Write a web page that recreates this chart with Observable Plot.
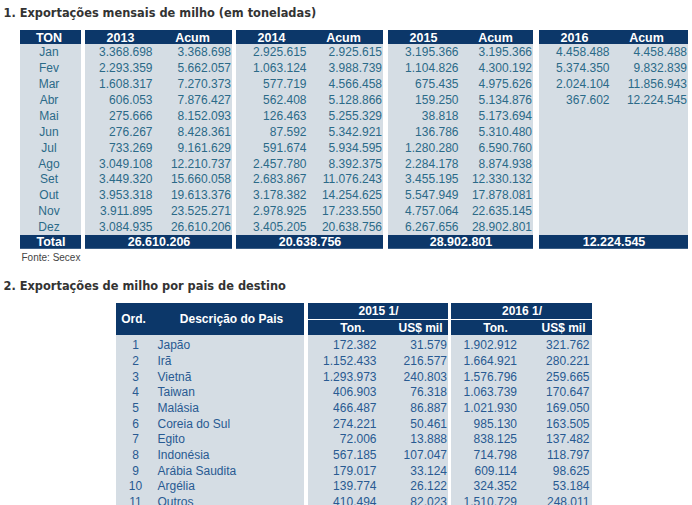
<!DOCTYPE html>
<html><head><meta charset="utf-8">
<script src="https://cdn.jsdelivr.net/npm/d3@7"></script>
<script src="https://cdn.jsdelivr.net/npm/@observablehq/plot@0.6"></script>
<style>body{margin:0;background:#fff}</style>
</head><body><div id="chart"></div>
<script>
// ---------- DATA ----------
const title1 = "1. Exportações mensais de milho (em toneladas)";
const title2 = "2. Exportações de milho por pais de destino";
const source = "Fonte: Secex";
const months = ["Jan","Fev","Mar","Abr","Mai","Jun","Jul","Ago","Set","Out","Nov","Dez"];
const years = ["2013","2014","2015","2016"];
const v2013 = [3368698,2293359,1608317,606053,275666,276267,733269,3049108,3449320,3953318,3911895,3084935];
const a2013 = [3368698,5662057,7270373,7876427,8152093,8428361,9161629,12210737,15660058,19613376,23525271,26610206];
const v2014 = [2925615,1063124,577719,562408,126463,87592,591674,2457780,2683867,3178382,2978925,3405205];
const a2014 = [2925615,3988739,4566458,5128866,5255329,5342921,5934595,8392375,11076243,14254625,17233550,20638756];
const v2015 = [3195366,1104826,675435,159250,38818,136786,1280280,2284178,3455195,5547949,4757064,6267656];
const a2015 = [3195366,4300192,4975626,5134876,5173694,5310480,6590760,8874938,12330132,17878081,22635145,28902801];
const v2016 = [4458488,5374350,2024104,367602];
const a2016 = [4458488,9832839,11856943,12224545];
const totals = [26610206,20638756,28902801,12224545];

const ord = [1,2,3,4,5,6,7,8,9,10,11];
const countries = ["Japão","Irã","Vietnã","Taiwan","Malásia","Coreia do Sul","Egito","Indonésia","Arábia Saudita","Argélia","Outros"];
const ton2015 = [172382,1152433,1293973,406903,466487,274221,72006,567185,179017,139774,410494];
const usd2015 = [31579,216577,240803,76318,86887,50461,13888,107047,33124,26122,82023];
const ton2016 = [1902912,1664921,1576796,1063739,1021930,985130,838125,714798,609114,324352,1510729];
const usd2016 = [321762,280221,259665,170647,169050,163505,137482,118797,98625,53184,248011];
const t2Years = ["2015 1/","2016 1/"];
const t2Sub = ["Ton.","US$ mil"];

// ---------- LAYOUT ----------
const W = 692, H = 505;
const NAVY = "#0c3769", GRAY = "#d5dde4", TEAL = "#2b6a88", BLUE = "#285a92";
const FONT = "Liberation Sans, Arial, sans-serif";
const fmt = d3.formatLocale({decimal:",", thousands:".", grouping:[3], currency:["",""]}).format(",d");

// Table 1 geometry
const T1 = {top:30, headH:14, rowH:15.9, ton:[20,81],
  blocks:[[85,232],[236,383],[388,533],[539,688]],
  valOff:[67,70,70,70], acumPad:1.5};
const t1BodyTop = T1.top + T1.headH;
const t1TotalTop = t1BodyTop + T1.rowH*months.length;
const t1TotalBot = t1TotalTop + 14;
const rowY1 = i => t1BodyTop + T1.rowH*(i+0.5);

const blockSpans = [T1.ton, ...T1.blocks];
const navyRects = [], grayRects = [];
for (const [a,b] of blockSpans) {
  navyRects.push({x1:a,x2:b,y1:T1.top,y2:t1BodyTop});
  grayRects.push({x1:a,x2:b,y1:t1BodyTop,y2:t1TotalTop});
  navyRects.push({x1:a,x2:b,y1:t1TotalTop,y2:t1TotalBot});
}

const headTexts = [{x:(T1.ton[0]+T1.ton[1])/2 - 2, y:T1.top+T1.headH/2, t:"TON"}];
const bodyTexts = [], monthTexts = [], totalTexts = [];
const series = [[v2013,a2013],[v2014,a2014],[v2015,a2015],[v2016,a2016]];
years.forEach((yr,k)=>{
  const [a,b] = T1.blocks[k];
  headTexts.push({x:a+35, y:T1.top+T1.headH/2, t:yr});
  headTexts.push({x:a+107, y:T1.top+T1.headH/2, t:"Acum"});
  const [vs,as] = series[k];
  vs.forEach((v,i)=>bodyTexts.push({x:a+T1.valOff[k], y:rowY1(i), t:fmt(v)}));
  as.forEach((v,i)=>bodyTexts.push({x:b-T1.acumPad, y:rowY1(i), t:fmt(v)}));
  totalTexts.push({x:(a+b)/2, y:(t1TotalTop+t1TotalBot)/2, t:fmt(totals[k])});
});
months.forEach((m,i)=>monthTexts.push({x:(T1.ton[0]+T1.ton[1])/2 - 2, y:rowY1(i), t:m}));
totalTexts.push({x:(T1.ton[0]+T1.ton[1])/2, y:(t1TotalTop+t1TotalBot)/2, t:"Total"});

// Table 2 geometry
const T2 = {top:303, mid:319, headBot:335, bodyTop:337, rowH:15.7,
  left:[116,304], blocks:[[308,448],[451,592]]};
const rowY2 = i => T2.bodyTop + T2.rowH*(i+0.5);
const navy2 = [{x1:T2.left[0],x2:T2.left[1],y1:T2.top,y2:T2.headBot}];
const gray2 = [{x1:T2.left[0],x2:T2.left[1],y1:T2.headBot,y2:H+5}];
T2.blocks.forEach(([a,b])=>{
  navy2.push({x1:a,x2:b,y1:T2.top,y2:T2.mid});
  navy2.push({x1:a,x2:b,y1:T2.mid+1,y2:T2.headBot});
  gray2.push({x1:a,x2:b,y1:T2.headBot,y2:H+5});
});
const head2 = [
  {x:133, y:(T2.top+T2.headBot)/2, t:"Ord."},
  {x:231, y:(T2.top+T2.headBot)/2, t:"Descrição do Pais"}
];
const body2Left = [], body2Right = [], body2Mid = [];
T2.blocks.forEach(([a,b],k)=>{
  head2.push({x:(a+b)/2, y:(T2.top+T2.mid)/2, t:t2Years[k]});
  head2.push({x:a+44, y:(T2.mid+T2.headBot)/2+0.5, t:t2Sub[0]});
  head2.push({x:a+112, y:(T2.mid+T2.headBot)/2+0.5, t:t2Sub[1]});
});
const cols2 = [[ton2015,376],[usd2015,446.5],[ton2016,516.5],[usd2016,589]];
ord.forEach((o,i)=>{
  body2Mid.push({x:135, y:rowY2(i), t:String(o)});
  body2Left.push({x:157, y:rowY2(i), t:countries[i]});
  cols2.forEach(([arr,xr])=>body2Right.push({x:xr, y:rowY2(i), t:fmt(arr[i])}));
});

const titles = [
  {x:3, y:13, t:title1},
  {x:3, y:286, t:title2}
];

const rect = (d,fill)=>Plot.rect(d,{x1:"x1",x2:"x2",y1:"y1",y2:"y2",fill});
const txt = (d,o)=>Plot.text(d,{x:"x",y:"y",text:"t",fontFamily:FONT,...o});

const chart = Plot.plot({
  width: W, height: H,
  margin: 0,
  x: {domain:[0,W], range:[0,W], axis:null},
  y: {domain:[0,H], range:[0,H], axis:null},
  marks: [
    rect(navyRects, NAVY), rect(grayRects, GRAY),
    rect(navy2, NAVY), rect(gray2, GRAY),
    txt(titles, {textAnchor:"start", fontSize:11.4, fontWeight:"bold", fill:"#333", fontFamily:"DejaVu Sans, Verdana, sans-serif"}),
    txt([{x:21,y:257,t:source}], {textAnchor:"start", fontSize:10, fill:"#444"}),
    txt(headTexts, {fontSize:12.5, fontWeight:"bold", fill:"white"}),
    txt(totalTexts, {fontSize:12.5, fontWeight:"bold", fill:"white"}),
    txt(monthTexts, {fontSize:12, fill:TEAL}),
    txt(bodyTexts, {textAnchor:"end", fontSize:12, fill:TEAL}),
    txt(head2, {fontSize:12, fontWeight:"bold", fill:"white"}),
    txt(body2Mid, {fontSize:12, fill:BLUE}),
    txt(body2Left, {textAnchor:"start", fontSize:12, fill:BLUE}),
    txt(body2Right, {textAnchor:"end", fontSize:12, fill:BLUE})
  ]
});
document.getElementById("chart").append(chart);
</script></body></html>
